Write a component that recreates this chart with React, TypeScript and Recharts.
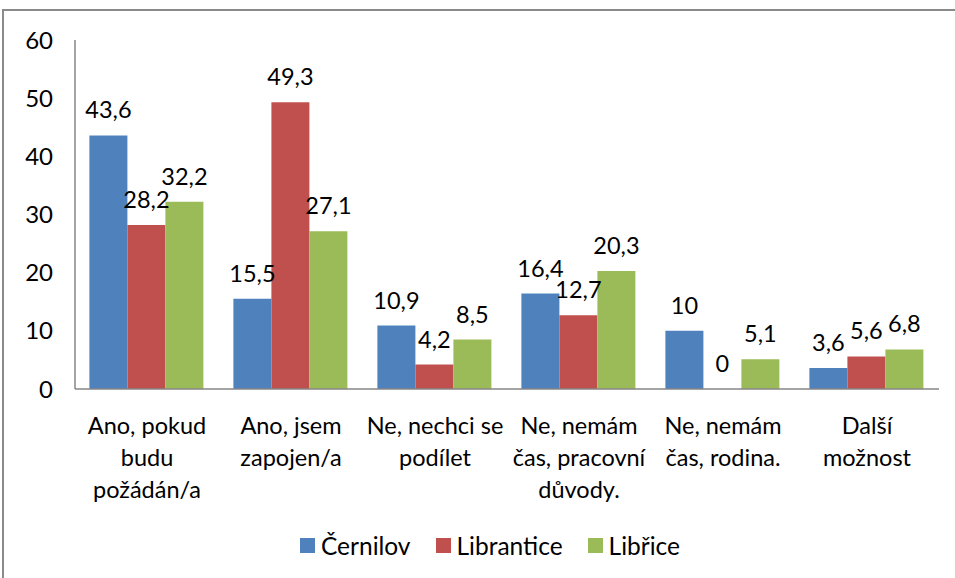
import React from 'react';
import { BarChart, Bar, XAxis, YAxis, Legend, LabelList } from 'recharts';

const categories = [
  'Ano, pokud\nbudu\npožádán/a',
  'Ano, jsem\nzapojen/a',
  'Ne, nechci se\npodílet',
  'Ne, nemám\nčas, pracovní\ndůvody.',
  'Ne, nemám\nčas, rodina.',
  'Další\nmožnost',
];
const cernilov = [43.6, 15.5, 10.9, 16.4, 10, 3.6];
const librantice = [28.2, 49.3, 4.2, 12.7, 0, 5.6];
const librice = [32.2, 27.1, 8.5, 20.3, 5.1, 6.8];
const yTicks = [0, 10, 20, 30, 40, 50, 60];
const seriesNames = ['Černilov', 'Librantice', 'Libřice'];
const seriesKeys = ['cernilov', 'librantice', 'librice'];
const colors = ['#4F81BD', '#C0504D', '#9BBB59'];

const data = categories.map((c, i) => ({
  name: c,
  cernilov: cernilov[i],
  librantice: librantice[i],
  librice: librice[i],
}));

const FONT = 'Lato, "Liberation Sans", Arial, sans-serif';
const FS = 23.5;

const CategoryTick = (props: any) => {
  const { x, y, payload } = props;
  const lines = String(payload.value).split('\n');
  return (
    <g>
      {lines.map((l, i) => (
        <text
          key={i}
          x={x}
          y={y + 28 + i * 32}
          textAnchor="middle"
          dominantBaseline="central"
          fontSize={FS}
          fill="#000"
          fontFamily={FONT}
        >
          {l}
        </text>
      ))}
    </g>
  );
};

const renderLabel = (props: any) => {
  const { x, y, width, value } = props;
  return (
    <text
      x={Number(x) + Number(width) / 2}
      y={Number(y) - 26}
      textAnchor="middle"
      dominantBaseline="central"
      fontSize={FS}
      fill="#000"
      fontFamily={FONT}
    >
      {String(value).replace('.', ',')}
    </text>
  );
};

const LegendContent = () => (
  <div
    style={{
      display: 'flex',
      justifyContent: 'flex-start',
      alignItems: 'center',
      fontFamily: FONT,
      fontSize: 24.5,
      color: '#000',
      paddingLeft: 300,
    }}
  >
    {seriesNames.map((n, i) => (
      <div key={n} style={{ display: 'flex', alignItems: 'center', marginRight: i < 2 ? 25 : 0 }}>
        <div style={{ width: 15, height: 15, background: colors[i], marginRight: 6 }} />
        <span>{n}</span>
      </div>
    ))}
  </div>
);

export default function App() {
  return (
    <div
      style={{
        position: 'absolute',
        left: 0,
        top: 0,
        width: 955,
        height: 578,
        overflow: 'hidden',
        background: '#fff',
        fontFamily: FONT,
      }}
    >
      <div
        style={{
          position: 'absolute',
          left: 2,
          top: 9,
          width: 1000,
          height: 700,
          border: '2px solid #8a8a8a',
          boxSizing: 'border-box',
        }}
      />
      <div style={{ position: 'absolute', left: 0, top: 0 }}>
        <BarChart
          width={955}
          height={578}
          data={data}
          margin={{ top: 40, right: 16, bottom: 39, left: 0 }}
          barCategoryGap="10%"
          barGap={0}
        >
          <XAxis
            dataKey="name"
            height={150}
            axisLine={{ stroke: '#868686', strokeWidth: 1.5 }}
            tickLine={false}
            tick={<CategoryTick />}
            interval={0}
          />
          <YAxis
            width={75}
            domain={[0, 60]}
            ticks={yTicks}
            interval={0}
            axisLine={{ stroke: '#868686', strokeWidth: 1.5 }}
            tickLine={false}
            tickSize={5}
            tickMargin={17}
            tick={{ fontSize: 24, fill: '#000', fontFamily: FONT }}
          />
          <Legend
            layout="horizontal"
            verticalAlign="middle"
            align="center"
            wrapperStyle={{ position: 'absolute', top: 531, left: 0, width: 955 }}
            content={<LegendContent />}
          />
          {seriesKeys.map((k, i) => (
            <Bar
              key={k}
              dataKey={k}
              name={seriesNames[i]}
              fill={colors[i]}
              minPointSize={0.01}
              isAnimationActive={false}
            >
              <LabelList dataKey={k} content={renderLabel} />
            </Bar>
          ))}
        </BarChart>
      </div>
    </div>
  );
}
